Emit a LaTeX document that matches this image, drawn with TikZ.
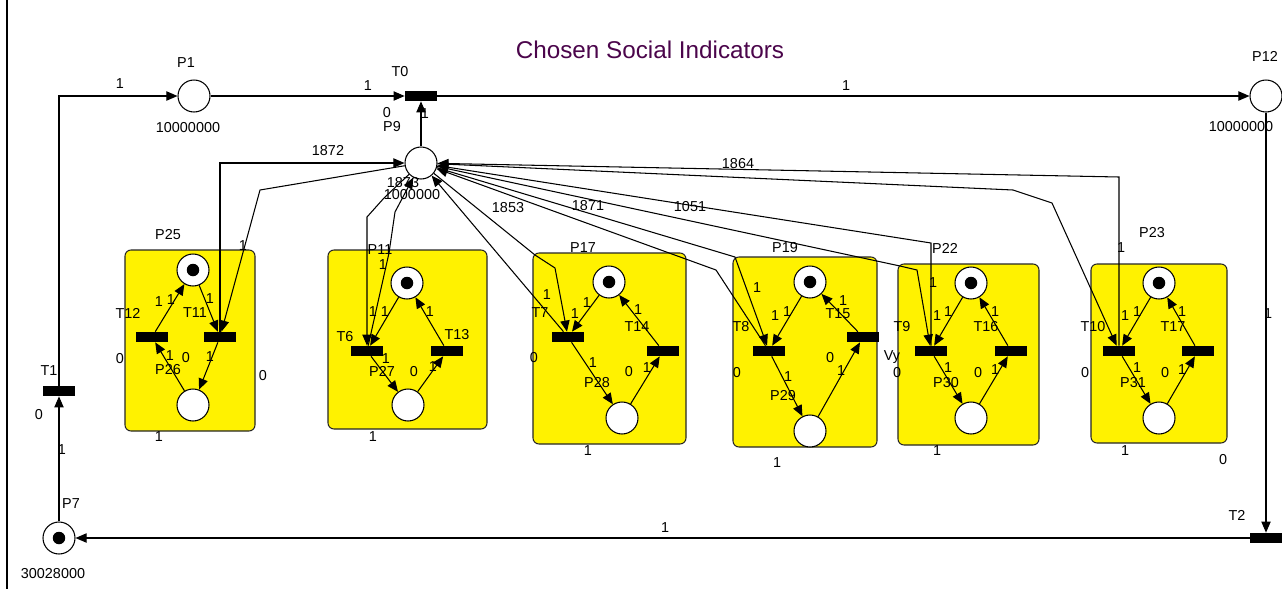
\documentclass[tikz,border=0pt]{standalone}
\usepackage{fontspec}
\setmainfont{Liberation Sans}
\usetikzlibrary{arrows.meta}
\definecolor{titlecol}{RGB}{75,5,75}
\begin{document}
\begin{tikzpicture}[x=0.02cm,y=-0.02cm,
 place/.style={circle,draw,line width=0.6pt,fill=white,minimum size=0.64cm,inner sep=0pt},
 tokplace/.style={place},
 trans/.style={rectangle,fill=black,minimum width=0.64cm,minimum height=0.2cm,inner sep=0pt},
 lbl/.style={font=\fontsize{8.2}{9}\selectfont,inner sep=0pt},
 arc/.style={draw,line width=0.6pt,-{Triangle[length=6.3pt,width=5.3pt]}},
 ybox/.style={fill=yellow,draw=black!85,line width=0.6pt,rounded corners=0.12cm}]
\useasboundingbox (0,0) rectangle (1282,589);
\fill[white] (0,0) rectangle (1282,589);
\draw[line width=0.6pt] (7,0) -- (7,589);
\node[font=\fontsize{13.8}{16}\selectfont,text=titlecol] (title) at (650,50) {Chosen Social Indicators};

% yellow boxes
\draw[ybox] (125,250) rectangle (255,431);
\draw[ybox] (328,250) rectangle (487,429);
\draw[ybox] (533,253) rectangle (686,444);
\draw[ybox] (733,257) rectangle (877,447);
\draw[ybox] (898,264) rectangle (1039,445);
\draw[ybox] (1091,264) rectangle (1227,443);

% main net
\node[place] (P1) at (194,96) {};
\node[place] (P9) at (421,163) {};
\node[place] (P12) at (1266,96) {};
\node[tokplace] (P7) at (59,538) {};
\node[trans] (T0) at (421,96) {};
\node[trans] (T1) at (59,391) {};
\node[trans] (T2) at (1266,538) {};

% box nets
\node[tokplace] (A1) at (193,270) {};
\node[trans] (T12) at (152,337) {};
\node[trans] (T11) at (220,337) {};
\node[place] (B1) at (193,405) {};

\node[tokplace] (A2) at (407,283) {};
\node[trans] (T6) at (367,351) {};
\node[trans] (T13) at (447,351) {};
\node[place] (B2) at (408,405) {};

\node[tokplace] (A3) at (609,282) {};
\node[trans] (T7) at (568,337) {};
\node[trans] (T14) at (663,351) {};
\node[place] (B3) at (622,418) {};

\node[tokplace] (A4) at (810,282) {};
\node[trans] (T8) at (769,351) {};
\node[trans] (T15) at (863,337) {};
\node[place] (B4) at (810,431) {};

\node[tokplace] (A5) at (971,283) {};
\node[trans] (T9) at (931,351) {};
\node[trans] (T16) at (1011,351) {};
\node[place] (B5) at (971,418) {};

\node[tokplace] (A6) at (1159,283) {};
\node[trans] (T10) at (1119,351) {};
\node[trans] (T17) at (1198,351) {};
\node[place] (B6) at (1159,418) {};

% tokens
\foreach \n in {P7,A1,A2,A3,A4,A5,A6} \fill (\n.center) circle (0.125cm);

% main arcs
\draw[arc] (T1.north) |- (P1.west);
\draw[arc] (P1) -- (T0.west);
\draw[arc] (P9) -- (T0.south);
\draw[arc] (T0.east) -- (P12.west);
\draw[arc] (P12) -- (T2.north);
\draw[arc] (T2.west) -- (P7.east);
\draw[arc] (P7) -- (T1.south);

% box arcs
\draw[arc] (A1) -- (T11); \draw[arc] (T11) -- (B1); \draw[arc] (B1) -- (T12); \draw[arc] (T12) -- (A1);
\draw[arc] (A2) -- (T6); \draw[arc] (T6) -- (B2); \draw[arc] (B2) -- (T13); \draw[arc] (T13) -- (A2);
\draw[arc] (A3) -- (T7); \draw[arc] (T7) -- (B3); \draw[arc] (B3) -- (T14); \draw[arc] (T14) -- (A3);
\draw[arc] (A4) -- (T8); \draw[arc] (T8) -- (B4); \draw[arc] (B4) -- (T15); \draw[arc] (T15) -- (A4);
\draw[arc] (A5) -- (T9); \draw[arc] (T9) -- (B5); \draw[arc] (B5) -- (T16); \draw[arc] (T16) -- (A5);
\draw[arc] (A6) -- (T10); \draw[arc] (T10) -- (B6); \draw[arc] (B6) -- (T17); \draw[arc] (T17) -- (A6);

% fan to P9
\coordinate (k1a) at (220,163);
\coordinate (k1b) at (260,190);
\draw[arc] (T11.north) -- (k1a) -- (P9);
\draw[arc] (P9) -- (k1b) -- (T11);
\coordinate (k2a) at (367,217);
\coordinate (k2a2) at (384,198);
\coordinate (k2b) at (395,212);
\coordinate (k2b2) at (389,253);
\draw[arc] (P9) -- (k2a2) -- (k2a) -- (T6);
\draw[arc] (T6) -- (k2b2) -- (k2b) -- (P9);
\coordinate (k3b1) at (535,255);
\coordinate (k3b2) at (555,268);
\draw[arc] (T7) -- (P9);
\draw[arc] (P9) -- (k3b1) -- (k3b2) -- (T7);
\coordinate (k4a) at (716,270);
\coordinate (k4b) at (735,257);
\draw[arc] (T8) -- (k4a) -- (P9);
\draw[arc] (P9) -- (k4b) -- (T8);
\coordinate (k5a) at (931,243);
\coordinate (k5b1) at (900,266);
\coordinate (k5b2) at (917,270);
\draw[arc] (T9.north) -- (k5a) -- (P9);
\draw[arc] (P9) -- (k5b1) -- (k5b2) -- (T9);
\coordinate (k6a) at (1119,177);
\coordinate (k6b1) at (1013,190);
\coordinate (k6b2) at (1052,203);
\draw[arc] (T10.north) -- (k6a) -- (P9);
\draw[arc] (P9) -- (k6b1) -- (k6b2) -- (T10);

% main labels
\node[lbl] (l1) at (120,84) {1};
\node[lbl] (lP1) at (186,63) {P1};
\node[lbl] (lP1m) at (188,128) {10000000};
\node[lbl] (l2) at (368,86) {1};
\node[lbl] (lT0) at (400,72) {T0};
\node[lbl] (l0a) at (387,113) {0};
\node[lbl] (lP9) at (392,127) {P9};
\node[lbl] (l3) at (425,114) {1};
\node[lbl] (l4) at (846,86) {1};
\node[lbl] (lP12) at (1265,56) {P12};
\node[lbl] (lP12m) at (1241,127) {10000000};
\node[lbl] (l5) at (1268,314) {1};
\node[lbl] (lT2) at (1237,515) {T2};
\node[lbl] (l6) at (665,528) {1};
\node[lbl] (l0b) at (1223,460) {0};
\node[lbl] (lP7) at (71,504) {P7};
\node[lbl] (lP7m) at (53,574) {30028000};
\node[lbl] (l7) at (62,450) {1};
\node[lbl] (lT1) at (49,371) {T1};
\node[lbl] (l0c) at (39,415) {0};
\node[lbl] (w1872) at (328,151) {1872};
\node[lbl] (w1873) at (403,183) {1873};
\node[lbl] (lP9m) at (412,195) {1000000};
\node[lbl] (w1853) at (508,208) {1853};
\node[lbl] (w1871) at (588,206) {1871};
\node[lbl] (w1051) at (690,207) {1051};
\node[lbl] (w1864) at (738,164) {1864};

% box 1 labels
\node[lbl] (lP25) at (168,235) {P25};
\node[lbl] (lT12) at (128,313) {T12};
\node[lbl] (lT11) at (195,313) {T11};
\node[lbl] (b1a) at (159,302) {1};
\node[lbl] (b1b) at (171,300) {1};
\node[lbl] (b1c) at (210,299) {1};
\node[lbl] (b1d) at (170,356) {1};
\node[lbl] (b1e) at (186,358) {0};
\node[lbl] (b1f) at (210,357) {1};
\node[lbl] (lP26) at (168,370) {P26};
\node[lbl] (b1g) at (120,359) {0};
\node[lbl] (b1h) at (263,376) {0};
\node[lbl] (b1i) at (243,246) {1};
\node[lbl] (b1j) at (159,437) {1};

% box 2 labels
\node[lbl] (lP11) at (380,250) {P11};
\node[lbl] (b2a) at (383,265) {1};
\node[lbl] (b2b) at (373,312) {1};
\node[lbl] (b2c) at (385,312) {1};
\node[lbl] (lT6) at (345,337) {T6};
\node[lbl] (lT13) at (457,335) {T13};
\node[lbl] (b2d) at (430,312) {1};
\node[lbl] (b2e) at (386,359) {1};
\node[lbl] (lP27) at (382,371) {P27};
\node[lbl] (b2f) at (414,372) {0};
\node[lbl] (b2g) at (433,367) {1};
\node[lbl] (b2h) at (373,437) {1};

% box 3 labels
\node[lbl] (lP17) at (583,248) {P17};
\node[lbl] (b3a) at (547,295) {1};
\node[lbl] (lT7) at (540,313) {T7};
\node[lbl] (b3b) at (575,314) {1};
\node[lbl] (b3c) at (587,303) {1};
\node[lbl] (lT14) at (637,327) {T14};
\node[lbl] (b3d) at (638,310) {1};
\node[lbl] (b3e) at (593,363) {1};
\node[lbl] (lP28) at (597,383) {P28};
\node[lbl] (b3f) at (629,372) {0};
\node[lbl] (b3g) at (647,368) {1};
\node[lbl] (b3h) at (534,358) {0};
\node[lbl] (b3i) at (588,451) {1};

% box 4 labels
\node[lbl] (lP19) at (785,248) {P19};
\node[lbl] (b4a) at (757,288) {1};
\node[lbl] (lT8) at (741,327) {T8};
\node[lbl] (b4b) at (775,316) {1};
\node[lbl] (b4c) at (787,312) {1};
\node[lbl] (lT15) at (838,314) {T15};
\node[lbl] (b4d) at (843,301) {1};
\node[lbl] (b4e) at (788,377) {1};
\node[lbl] (lP29) at (783,396) {P29};
\node[lbl] (b4f) at (830,358) {0};
\node[lbl] (b4g) at (841,371) {1};
\node[lbl] (b4h) at (737,373) {0};
\node[lbl] (b4i) at (777,463) {1};

% box 5 labels
\node[lbl] (lP22) at (945,248) {P22};
\node[lbl] (b5a) at (933,283) {1};
\node[lbl] (lT9) at (902,327) {T9};
\node[lbl] (b5b) at (937,316) {1};
\node[lbl] (b5c) at (948,312) {1};
\node[lbl] (lT16) at (986,327) {T16};
\node[lbl] (b5d) at (995,312) {1};
\node[lbl] (b5e) at (948,368) {1};
\node[lbl] (lP30) at (946,383) {P30};
\node[lbl] (b5f) at (978,373) {0};
\node[lbl] (b5g) at (995,370) {1};
\node[lbl] (lVy) at (892,357) {Vy};
\node[lbl] (b5h) at (897,373) {0};
\node[lbl] (b5i) at (937,451) {1};

% box 6 labels
\node[lbl] (lP23) at (1152,233) {P23};
\node[lbl] (b6a) at (1121,248) {1};
\node[lbl] (lT10) at (1093,327) {T10};
\node[lbl] (b6b) at (1125,316) {1};
\node[lbl] (b6c) at (1137,312) {1};
\node[lbl] (lT17) at (1173,327) {T17};
\node[lbl] (b6d) at (1182,312) {1};
\node[lbl] (b6e) at (1137,368) {1};
\node[lbl] (lP31) at (1133,383) {P31};
\node[lbl] (b6f) at (1165,373) {0};
\node[lbl] (b6g) at (1182,370) {1};
\node[lbl] (b6h) at (1085,373) {0};
\node[lbl] (b6i) at (1125,451) {1};
\end{tikzpicture}
\end{document}
